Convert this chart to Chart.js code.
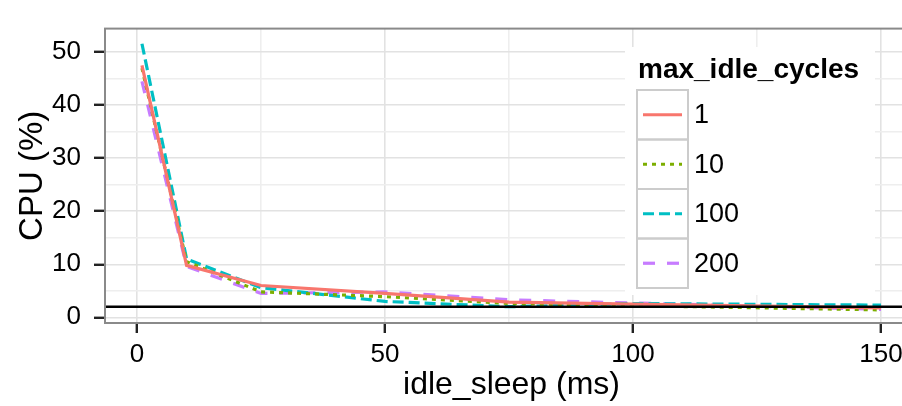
<!DOCTYPE html>
<html>
<head>
<meta charset="utf-8">
<script src="https://cdn.jsdelivr.net/npm/chart.js@4"></script>
<style>
  html, body { margin: 0; padding: 0; background: #fff; overflow: hidden; }
</style>
</head>
<body>
<canvas id="chartId" width="930" height="406"></canvas>
<script>
// data
const idleSleep = [1, 10, 25, 50, 75, 100, 150];
const seriesNames = ['1', '10', '100', '200'];
const cpu1 = [47.5, 9.8, 6.0, 4.5, 2.85, 2.5, 1.8];
const cpu10 = [47.0, 10.5, 4.8, 3.9, 2.6, 2.2, 1.4];
const cpu100 = [51.6, 11.0, 5.6, 3.0, 2.0, 2.6, 2.3];
const cpu200 = [44.5, 9.6, 4.5, 4.8, 3.3, 2.7, 1.5];
const refLine = 2;

const xTicks = [0, 25, 50, 75, 100, 125, 150];
const xLabels = [0, 50, 100, 150];
const yTicks = [0, 5, 10, 15, 20, 25, 30, 35, 40, 45, 50];
const yLabels = [0, 10, 20, 30, 40, 50];

const colors = ['#F8766D', '#7CAE00', '#00BFC4', '#C77CFF'];
const dashes = [[], [4, 5], [11, 5], [12, 12]];
const seriesValues = [cpu1, cpu10, cpu100, cpu200];

const FONT = "'Liberation Sans', Arial, Helvetica, sans-serif";

const datasets = seriesValues.map((vals, i) => ({
    label: seriesNames[i],
    data: idleSleep.map((x, j) => ({ x: x, y: vals[j] })),
    borderColor: colors[i],
    borderWidth: 3.2,
    borderDash: dashes[i],
    pointRadius: 0,
    fill: false,
    tension: 0
}));

// ggplot style panel border, reference line and legend
const ggPlugin = {
    id: 'gg',
    afterDatasetsDraw(chart) {
        const c = chart.ctx;
        const a = chart.chartArea;
        const yPix = chart.scales.y.getPixelForValue(refLine);
        c.save();
        c.strokeStyle = '#000';
        c.lineWidth = 2.6;
        c.beginPath();
        c.moveTo(a.left, yPix);
        c.lineTo(a.right, yPix);
        c.stroke();

        // legend
        c.fillStyle = '#fff';
        c.fillRect(625, 47, 250, 248);
        c.fillStyle = '#000';
        c.font = 'bold 28px ' + FONT;
        c.textBaseline = 'alphabetic';
        c.textAlign = 'left';
        c.fillText('max_idle_cycles', 638, 78);
        const rowTop = 90, rowH = 49.5, boxL = 637, boxW = 51;
        seriesNames.forEach((name, i) => {
            const top = rowTop + i * rowH;
            c.strokeStyle = '#cccccc';
            c.lineWidth = 2;
            c.setLineDash([]);
            c.strokeRect(boxL, top, boxW, rowH);
            const mid = top + rowH / 2;
            c.strokeStyle = colors[i];
            c.lineWidth = 3.2;
            c.setLineDash(dashes[i]);
            c.beginPath();
            c.moveTo(boxL + 6, mid);
            c.lineTo(boxL + boxW - 6, mid);
            c.stroke();
            c.setLineDash([]);
            c.fillStyle = '#000';
            c.font = '27px ' + FONT;
            c.textBaseline = 'middle';
            c.fillText(name, 694, mid + 1);
        });

        // panel border
        c.strokeStyle = '#8a8a8a';
        c.lineWidth = 2;
        c.strokeRect(a.left, a.top, a.right - a.left, a.bottom - a.top);
        c.restore();
    }
};

const ctx = document.getElementById('chartId').getContext('2d');

const chart = new Chart(ctx, {
    type: 'line',
    data: { datasets: datasets },
    options: {
        responsive: false,
        animation: false,
        devicePixelRatio: 1,
        layout: { padding: { top: 11, right: 12, left: 0, bottom: 0 } },
        plugins: {
            legend: { display: false },
            tooltip: { enabled: false }
        },
        scales: {
            x: {
                type: 'linear',
                min: -6.45,
                max: 157.45,
                afterFit: (s) => { s.height = 83; },
                afterBuildTicks: (s) => { s.ticks = xTicks.map(v => ({ value: v })); },
                border: { display: false },
                grid: {
                    color: (c) => xLabels.includes(c.tick.value) ? '#e2e2e2' : '#eeeeee',
                    lineWidth: 1.6,
                    tickLength: 10,
                    tickColor: (c) => xLabels.includes(c.tick.value) ? '#222' : 'rgba(0,0,0,0)',
                    tickWidth: 2.4
                },
                ticks: {
                    autoSkip: false,
                    maxRotation: 0,
                    padding: 6,
                    color: '#000',
                    font: { family: FONT, size: 26 },
                    callback: (v) => xLabels.includes(v) ? String(v) : ''
                },
                title: {
                    display: true,
                    text: 'idle_sleep (ms)',
                    color: '#000',
                    font: { family: FONT, size: 32 },
                    padding: { top: 0, bottom: 2 }
                }
            },
            y: {
                type: 'linear',
                min: -1.07,
                max: 54.45,
                afterFit: (s) => { s.width = 105; },
                afterBuildTicks: (s) => { s.ticks = yTicks.map(v => ({ value: v })); },
                border: { display: false },
                grid: {
                    color: (c) => yLabels.includes(c.tick.value) ? '#e2e2e2' : '#eeeeee',
                    lineWidth: 1.6,
                    tickLength: 11,
                    tickColor: (c) => yLabels.includes(c.tick.value) ? '#222' : 'rgba(0,0,0,0)',
                    tickWidth: 2.4
                },
                ticks: {
                    autoSkip: false,
                    padding: 13,
                    color: '#000',
                    font: { family: FONT, size: 26 },
                    callback: (v) => yLabels.includes(v) ? String(v) : ''
                },
                title: {
                    display: true,
                    text: 'CPU (%)',
                    color: '#000',
                    font: { family: FONT, size: 33 },
                    padding: { top: 13, bottom: 0 }
                }
            }
        }
    },
    plugins: [ggPlugin]
});
</script>
</body>
</html>
